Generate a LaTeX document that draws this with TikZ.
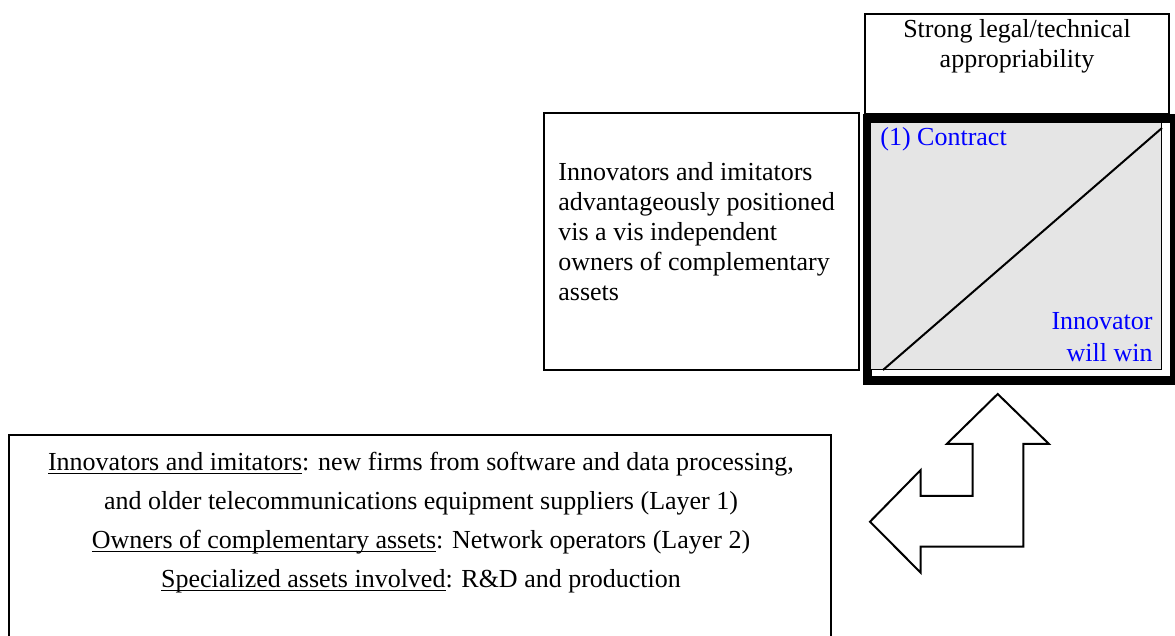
\documentclass[tikz,border=0pt]{standalone}
\usepackage{fontspec}
\setmainfont{Liberation Serif}
\usetikzlibrary{positioning}
\newsavebox{\ulbox}
\newcommand{\undertext}[1]{\sbox{\ulbox}{#1}\rlap{\rule[-1.8pt]{\wd\ulbox}{0.6pt}}\usebox{\ulbox}}

\begin{document}
\begin{tikzpicture}[x=0.5pt, y=-0.5pt,
    box/.style={draw, line width=1pt, inner sep=0pt, anchor=north west},
    txt/.style={inner sep=0pt, font=\fontsize{13}{15}\selectfont},
    bluetxt/.style={txt, text=blue, font=\fontsize{13}{15.8}\selectfont}]
  \useasboundingbox (0,0) rectangle (1175,636);

  \node [box, minimum width=152pt, minimum height=50pt] (legal) at (864,13) {};
  \node [txt, align=center, below=3pt of legal.north] (legaltxt) {Strong legal/technical\\appropriability};

  \node [box, minimum width=157.5pt, minimum height=128.5pt] (adv) at (543,112) {};
  \node [txt, align=left, anchor=north west] (advtxt) at (558,162)
        {Innovators and imitators\\advantageously positioned\\vis a vis independent\\owners of complementary\\assets};

  \node [box, minimum width=411pt, minimum height=125pt] (firms) at (8,434) {};
  \node [txt, align=center, anchor=north, font=\fontsize{13}{19.5}\selectfont] (firmstxt) at (421,452)
        {\undertext{Innovators and imitators}: new firms from software and data processing,\\
         and older telecommunications equipment suppliers (Layer 1)\\
         \undertext{Owners of complementary assets}: Network operators (Layer 2)\\
         \undertext{Specialized assets involved}: R\&D and production};

  \node [draw, line width=4.5pt, inner sep=0pt, minimum width=153.75pt, minimum height=131.25pt,
         anchor=north west] (frame) at (862.5,114) {};
  \node [draw, line width=0.5pt, fill=black!10, inner sep=0pt, minimum width=145.5pt,
         minimum height=123.5pt, anchor=north west] (cell) at (870,122) {};
  \draw [line width=1pt] ([xshift=6.5pt]cell.south west) -- ([yshift=-3pt]cell.north east);
  \node [bluetxt, anchor=base west] (contract) at (880,146) {(1) Contract};
  \node [bluetxt, align=right, anchor=south east] (win) at (1153,362) {Innovator\\will win};

  \draw [line width=1pt, fill=white, line join=miter]
        (997.7,394) -- (1049,444) -- (1023.3,444) -- (1023.3,546.7) -- (920.7,546.7)
        -- (920.7,572.7) -- (870,521.7) -- (920.7,470) -- (920.7,496) -- (972.7,496)
        -- (972.7,444) -- (946.7,444) -- cycle;
\end{tikzpicture}
\end{document}
